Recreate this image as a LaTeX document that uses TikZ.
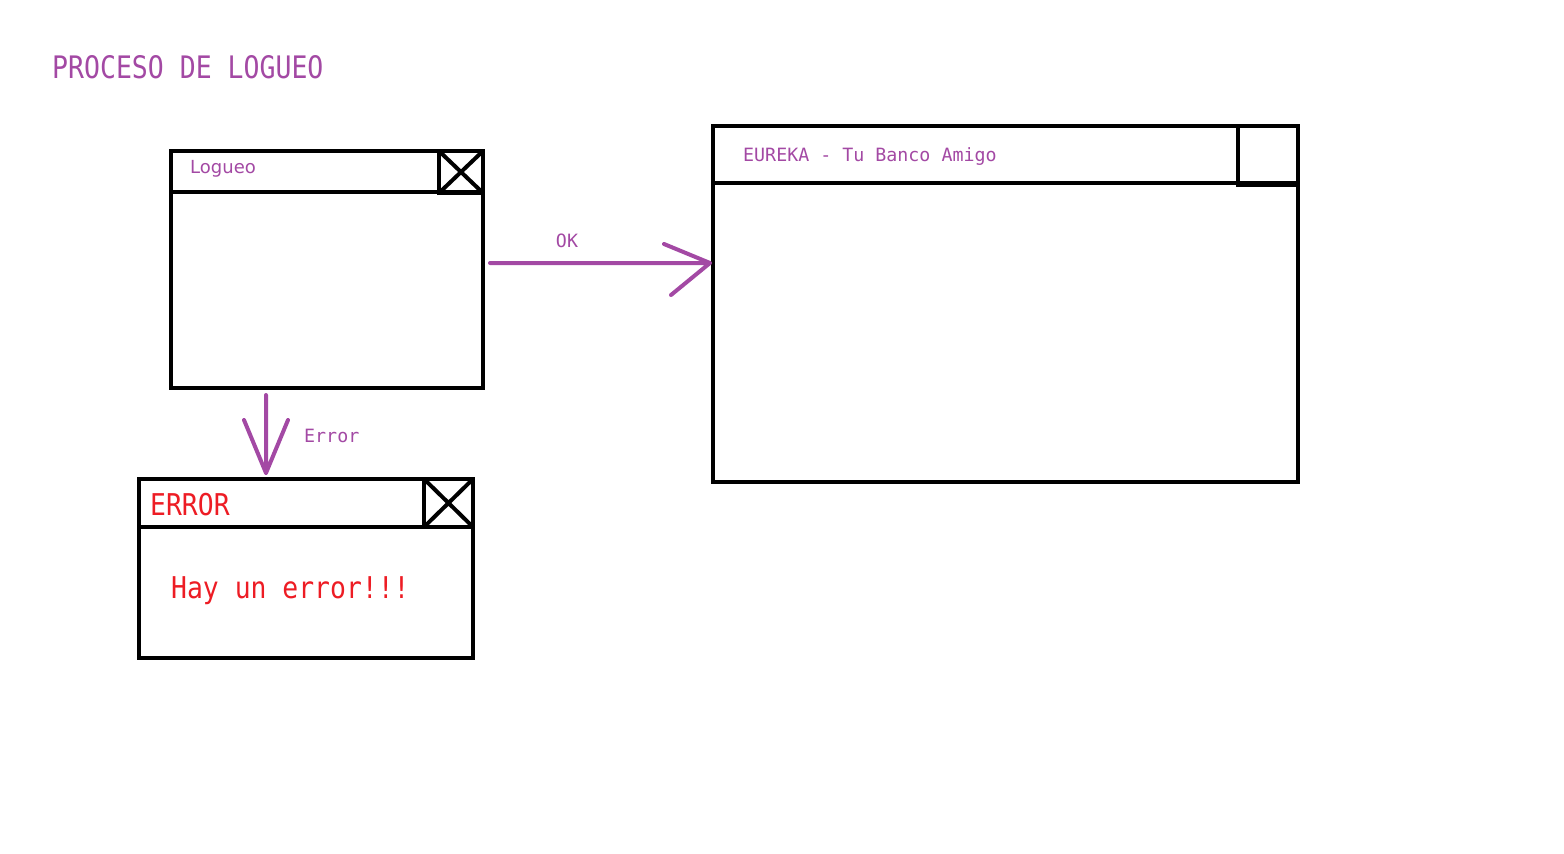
\documentclass[tikz,border=0pt]{standalone}
\usepackage{fontspec}
\newfontfamily\monof{DejaVu Sans Mono}
\newfontfamily\sansf{DejaVu Sans}
\definecolor{ppurple}{HTML}{A349A4}
\definecolor{pred}{HTML}{ED1C24}
\begin{document}
\begin{tikzpicture}[x=1pt,y=-1pt,
  win/.style={draw=black, line width=4.5pt, inner sep=0pt, outer sep=0pt, rectangle},
  conn/.style={draw=ppurple, line width=4pt, line cap=round, line join=round},
  lbl/.style={inner sep=0pt, anchor=west}]
\useasboundingbox (0,0) rectangle (1564,854);
% title
\node[lbl, text=ppurple, font=\monof\fontsize{31}{31}\selectfont] (title) at (52,67) {\scalebox{0.855}[1]{PROCESO DE LOGUEO}};
% Logueo window
\node[win, minimum width=312pt, minimum height=237pt] (logueo) at (327,269.5) {};
\node[win, anchor=north west, minimum width=312pt, minimum height=41pt] (logueoBar) at (logueo.north west) {};
\node[win, anchor=north east, minimum width=44pt, minimum height=42pt] (logueoX) at (logueo.north east) {};
\draw[line width=4pt] (logueoX.north west) -- (logueoX.south east) (logueoX.north east) -- (logueoX.south west);
\node[lbl, text=ppurple, font=\sansf\fontsize{18}{18}\selectfont] (logueoT) at (190,169) {Logueo};
% EUREKA window
\node[win, minimum width=585pt, minimum height=356pt] (eureka) at (1005.5,304) {};
\node[win, anchor=north west, minimum width=585pt, minimum height=57pt] (eurekaBar) at (eureka.north west) {};
\node[win, anchor=north east, minimum width=60pt, minimum height=59pt] (eurekaX) at (eureka.north east) {};
\node[lbl, text=ppurple, font=\monof\fontsize{18.3}{18.3}\selectfont] (eurekaT) at (743,157) {EUREKA - Tu Banco Amigo};
% ERROR window
\node[win, minimum width=334pt, minimum height=179pt] (err) at (306,568.5) {};
\node[win, anchor=north west, minimum width=334pt, minimum height=48pt] (errBar) at (err.north west) {};
\node[win, anchor=north east, minimum width=49pt, minimum height=48pt] (errX) at (err.north east) {};
\draw[line width=4pt] (errX.north west) -- (errX.south east) (errX.north east) -- (errX.south west);
\node[lbl, text=pred, font=\monof\fontsize{30}{30}\selectfont] (errT) at (150,505) {\scalebox{0.88}[1]{ERROR}};
\node[lbl, text=pred, font=\monof\fontsize{30}{30}\selectfont] (errMsg) at (171,591) {\scalebox{0.88}[1]{Hay un error!!!}};
% OK arrow
\coordinate (okS) at (490,263);
\coordinate (okE) at ([xshift=-3pt]eureka.west |- okS);
\path[conn] (okS) -- (okE) -- ++(-46,-19) (okE) -- ++(-39,32);
\node[inner sep=0pt, text=ppurple, font=\monof\fontsize{18.3}{18.3}\selectfont] (okL) at (567,241) {OK};
% Error arrow
\coordinate (erS) at (266,395);
\coordinate (erE) at (erS |- err.north);
\coordinate (erTip) at ([yshift=6pt]erE);
\path[conn] (erS) -- (erTip) -- ++(-22,-53) (erTip) -- ++(22,-53);
\node[lbl, text=ppurple, font=\monof\fontsize{18.3}{18.3}\selectfont] (erL) at (304,436) {Error};
\end{tikzpicture}
\end{document}
